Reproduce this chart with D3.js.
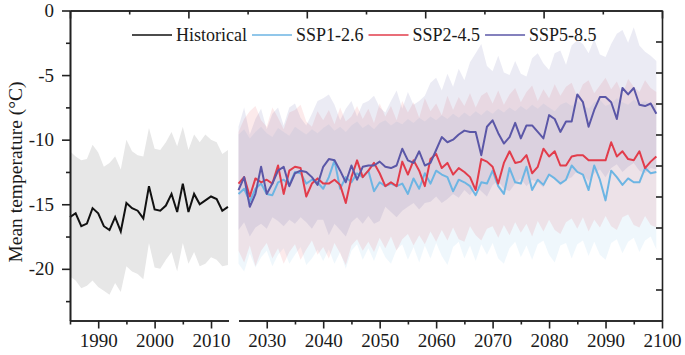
<!DOCTYPE html>
<html>
<head>
<meta charset="utf-8">
<script src="https://cdn.jsdelivr.net/npm/d3@7"></script>
<style>
  body { margin: 0; background: #fff; }
  svg text { font-family: "Liberation Serif", "Times New Roman", serif; fill: #1a1a1a; }
</style>
</head>
<body>
<svg id="chart" width="685" height="355"></svg>
<script>
// ---- data ----
const histYears = d3.range(1985, 2014);
const futYears = d3.range(2025, 2100);

const histMean = [-16.0, -15.7, -16.7, -16.5, -15.3, -15.7, -16.7, -17.0, -16.0, -17.1, -14.9, -15.3, -15.5, -16.1, -13.6,
  -15.4, -15.5, -15.1, -14.2, -15.6, -13.4, -15.6, -14.2, -15.0, -14.7, -14.4, -14.6, -15.5, -15.2];
const histUpper = [-10.9, -11.3, -11.6, -11.5, -10.4, -11.0, -12.1, -11.8, -11.3, -12.3, -10.0, -10.9, -11.2, -11.3, -9.1,
  -10.7, -10.8, -10.2, -9.4, -10.5, -9.0, -10.8, -9.6, -10.2, -9.6, -10.0, -10.2, -11.1, -10.8];
const histLower = [-20.6, -20.9, -21.5, -21.3, -20.9, -21.4, -21.7, -22.0, -21.1, -21.8, -19.8, -20.2, -20.4, -20.8, -18.0,
  -19.9, -20.0, -19.3, -18.7, -20.2, -18.0, -19.6, -18.7, -19.8, -19.6, -19.1, -19.3, -19.8, -19.7];

const ssp126 = [-14.2, -13.8, -14.8, -13.8, -13.4, -14.2, -14.3, -13.3, -13.1, -13.5, -12.5, -12.6, -13.4, -13.1, -13.3,
  -13.8, -12.9, -11.6, -13.8, -12.9, -13.3, -12.6, -12.9, -12.4, -14.0, -13.3, -13.6, -13.4, -13.6, -13.4,
  -14.2, -13.0, -13.8, -12.6, -13.4, -12.4, -12.7, -12.9, -14.0, -13.1, -13.3, -13.6, -14.3, -13.3, -13.4,
  -12.4, -13.6, -14.2, -12.2, -13.3, -13.4, -12.1, -13.9, -13.1, -13.5, -12.7, -13.0, -13.4, -13.1, -12.0,
  -12.5, -12.7, -13.9, -12.0, -13.1, -14.7, -12.4, -12.9, -13.5, -13.0, -13.3, -13.3, -12.2, -12.6, -12.5];
const ssp126Upper = [-9.6, -9.2, -9.9, -9.4, -9.0, -9.5, -9.8, -9.1, -9.4, -9.7, -9.0, -9.3, -9.6, -9.2, -9.5,
  -9.1, -8.8, -9.3, -9.0, -9.4, -8.9, -8.6, -9.1, -8.8, -9.2, -8.7, -8.5, -8.9, -8.6, -8.8,
  -8.4, -8.7, -8.3, -8.6, -8.2, -8.5, -8.1, -8.4, -8.0, -8.3, -7.9, -8.2, -7.8, -8.1, -7.7,
  -8.0, -7.6, -7.9, -7.5, -7.8, -7.4, -7.7, -7.3, -7.6, -7.2, -7.5, -7.8, -7.3, -7.1, -7.4,
  -7.0, -7.3, -7.6, -7.1, -6.9, -7.4, -7.2, -6.8, -7.1, -7.3, -6.9, -7.2, -7.0, -7.3, -7.2];
const ssp126Lower = [-19.6, -20.2, -18.8, -19.9, -19.1, -18.6, -19.8, -18.9, -18.4, -19.6, -18.9, -18.3, -19.7, -19.2, -18.5,
  -19.4, -18.5, -19.6, -18.7, -20.0, -18.6, -18.1, -19.3, -18.4, -19.4, -18.2, -19.1, -19.6, -18.5, -18.1,
  -19.3, -18.3, -19.5, -18.2, -19.2, -18.0, -19.0, -19.7, -18.3, -17.9, -19.2, -18.2, -19.4, -18.1, -18.9,
  -18.0, -19.2, -19.6, -18.4, -17.9, -19.1, -18.2, -19.3, -18.1, -17.8, -18.9, -19.5, -18.2, -18.0, -19.2,
  -18.1, -17.8, -19.0, -17.9, -18.9, -19.3, -18.0, -17.7, -18.8, -17.9, -17.6, -18.7, -17.8, -17.5, -18.5];

const ssp245 = [-13.4, -12.9, -14.4, -13.0, -13.3, -13.1, -13.4, -12.0, -14.2, -12.4, -12.1, -12.2, -14.4, -13.4, -13.0,
  -13.4, -13.4, -13.1, -13.5, -14.9, -12.9, -11.6, -12.9, -12.4, -11.8, -12.6, -13.6, -13.3, -13.6, -11.7,
  -12.7, -11.6, -12.4, -13.6, -11.5, -11.1, -12.2, -11.8, -12.7, -12.2, -12.5, -12.9, -13.9, -11.5, -11.7,
  -12.1, -13.4, -11.8, -10.9, -11.8, -11.7, -11.2, -12.6, -12.1, -10.7, -11.3, -10.9, -12.0, -12.0, -11.3,
  -11.2, -11.2, -11.6, -11.6, -11.6, -11.6, -10.2, -11.3, -10.9, -11.5, -11.6, -10.9, -12.2, -11.7, -11.3];
const ssp245Upper = [-9.4, -8.4, -7.8, -7.4, -8.5, -9.0, -7.5, -8.3, -9.2, -7.9, -7.7, -7.3, -8.6, -9.0, -7.8,
  -8.5, -7.7, -8.8, -7.5, -8.6, -8.2, -7.4, -8.4, -7.6, -8.7, -7.2, -8.2, -7.4, -8.5, -7.0,
  -7.9, -7.1, -8.3, -6.8, -7.8, -7.2, -8.1, -6.6, -7.7, -6.7, -7.4, -6.4, -7.5, -6.6, -6.3,
  -7.2, -6.2, -7.3, -6.5, -6.0, -7.1, -6.3, -5.8, -7.0, -6.1, -6.8, -5.7, -6.6, -5.9, -5.6,
  -6.7, -5.7, -5.4, -6.4, -5.8, -5.2, -6.1, -5.5, -6.5, -5.3, -5.9, -6.3, -5.4, -6.0, -6.3];
const ssp245Lower = [-18.6, -19.5, -18.2, -19.8, -18.6, -18.0, -19.2, -18.4, -19.6, -18.7, -18.1, -19.3, -18.5, -17.8, -18.9,
  -18.3, -19.2, -18.0, -18.8, -19.7, -18.2, -17.7, -18.6, -17.9, -18.7, -17.6, -18.4, -17.5, -18.6, -17.7,
  -17.3, -18.2, -17.4, -18.1, -17.1, -17.9, -17.0, -17.8, -16.8, -17.7, -17.9, -16.7, -17.4, -17.8, -16.9,
  -16.7, -17.6, -16.6, -17.4, -16.4, -17.2, -16.5, -17.5, -16.3, -17.1, -16.2, -17.0, -17.3, -16.4, -16.1,
  -16.9, -16.0, -17.1, -16.2, -16.8, -15.9, -16.7, -17.0, -16.0, -15.8, -16.6, -16.8, -15.9, -16.6, -16.8];

const ssp585 = [-13.9, -12.9, -15.2, -14.2, -12.1, -14.2, -13.4, -12.4, -12.1, -13.6, -12.6, -12.4, -12.5, -12.9, -13.5,
  -12.1, -11.5, -11.6, -12.4, -13.3, -12.0, -13.1, -12.1, -12.0, -12.0, -11.7, -12.1, -12.2, -12.0, -10.7,
  -11.6, -11.8, -10.9, -12.0, -11.8, -10.8, -9.8, -10.2, -10.0, -9.6, -9.3, -9.4, -9.4, -11.2, -9.0,
  -8.5, -9.5, -10.3, -9.8, -8.7, -9.9, -8.9, -8.9, -9.4, -9.9, -8.1, -8.4, -9.4, -8.6, -8.6,
  -6.5, -7.1, -9.0, -7.7, -6.7, -6.7, -7.1, -8.4, -6.0, -6.5, -6.0, -7.3, -7.4, -7.2, -8.0];
const ssp585Upper = [-9.0, -7.5, -9.6, -8.4, -7.6, -9.2, -8.0, -7.5, -8.9, -7.5, -7.2, -8.3, -8.9, -8.0, -7.0,
  -6.8, -6.5, -7.3, -8.5, -7.6, -7.0, -8.2, -7.2, -7.0, -6.6, -7.5, -7.9, -7.0, -6.2, -7.6,
  -6.3, -7.3, -7.0, -6.6, -5.6, -5.2, -6.2, -4.9, -5.9, -4.5, -5.4, -4.0, -3.3, -2.6, -4.3,
  -4.7, -3.5, -4.8, -5.0, -3.9, -4.9, -5.1, -3.7, -3.3, -4.1, -4.6, -3.3, -3.1, -4.2, -2.7,
  -2.3, -2.6, -3.3, -2.2, -3.4, -3.6, -2.6, -1.8, -1.5, -2.5, -1.3, -2.7, -3.2, -3.5, -3.9];
const ssp585Lower = [-17.0, -16.4, -17.5, -16.8, -16.5, -16.9, -16.0, -16.3, -16.7, -16.2, -16.5, -16.0, -16.4, -16.9, -16.2,
  -16.2, -17.4, -16.5, -17.0, -17.5, -16.4, -16.0, -16.5, -15.9, -16.5, -16.3, -15.2, -15.6, -16.0, -15.5,
  -15.2, -14.9, -15.4, -14.9, -14.8, -14.4, -14.9, -14.6, -14.2, -14.5, -13.9, -14.3, -13.6, -14.0, -14.4,
  -13.5, -13.2, -13.8, -14.0, -13.4, -13.0, -13.6, -13.1, -13.3, -13.7, -12.8, -13.0, -13.5, -13.1, -12.9,
  -12.4, -12.7, -13.2, -12.6, -12.3, -12.9, -12.2, -11.9, -12.5, -12.1, -11.8, -12.4, -12.6, -12.2, -12.3];

const scenarioNames = ['SSP1-2.6', 'SSP2-4.5', 'SSP5-8.5'];
const scenarioColors = ['#6db5e3', '#e23c4b', '#5b57a7'];
const yMajor = [0, -5, -10, -15, -20];
const yMinor = [-2.5, -7.5, -12.5, -17.5, -22.5];
const xMajorHist = [1990, 2000, 2010];
const xMinorHist = [1985, 1995, 2005];
const xMajorFut = [2030, 2040, 2050, 2060, 2070, 2080, 2090, 2100];
const xMinorFut = [2035, 2045, 2055, 2065, 2075, 2085, 2095];

// ---- layout ----
const svg = d3.select('#chart');
const plotLeft = 70, plotRight = 662, plotTop = 10.5, plotBottom = 320.5;

const y = d3.scaleLinear().domain([-24, 0]).range([plotBottom, plotTop]);
const xHist = d3.scaleLinear().domain([1985, 2013.1]).range([plotLeft, 228.5]);
const xFut = d3.scaleLinear().domain([2025, 2100]).range([238.5, plotRight]);

const hist = histYears.map((yr, i) => ({ yr, mean: histMean[i], hi: histUpper[i], lo: histLower[i] }));
const scen = [
  { mean: ssp126, hi: ssp126Upper, lo: ssp126Lower },
  { mean: ssp245, hi: ssp245Upper, lo: ssp245Lower },
  { mean: ssp585, hi: ssp585Upper, lo: ssp585Lower }
].map((s, k) => ({
  name: scenarioNames[k],
  color: scenarioColors[k],
  rows: futYears.map((yr, i) => ({ yr, mean: s.mean[i], hi: s.hi[i], lo: s.lo[i] }))
}));

// bands
const histArea = d3.area().x(d => xHist(d.yr)).y0(d => y(d.lo)).y1(d => y(d.hi));
const futArea = d3.area().x(d => xFut(d.yr)).y0(d => y(d.lo)).y1(d => y(d.hi));

svg.append('path').datum(hist).attr('d', histArea).attr('fill', '#e7e7e7');

svg.selectAll('.band').data(scen).join('path')
  .attr('class', 'band')
  .attr('d', d => futArea(d.rows))
  .attr('fill', d => d.color)
  .attr('fill-opacity', (d, i) => i === 2 ? 0.12 : 0.11);

// lines
const histLine = d3.line().x(d => xHist(d.yr)).y(d => y(d.mean));
const futLine = d3.line().x(d => xFut(d.yr)).y(d => y(d.mean));

svg.append('path').datum(hist).attr('d', histLine)
  .attr('fill', 'none').attr('stroke', '#111').attr('stroke-width', 2);

svg.selectAll('.sline').data(scen).join('path')
  .attr('class', 'sline')
  .attr('d', d => futLine(d.rows))
  .attr('fill', 'none')
  .attr('stroke', d => d.color)
  .attr('stroke-width', 2)
  .attr('stroke-linejoin', 'round');

// ---- axes ----
function styleAxis(g) {
  g.attr('font-family', null);
  g.selectAll('path, line').attr('stroke', '#222').attr('stroke-width', 1.6);
  g.selectAll('text').attr('font-family', '"Liberation Serif", "Times New Roman", serif')
    .attr('font-size', 19).attr('fill', '#1a1a1a');
}

// left
svg.append('g').attr('transform', `translate(${plotLeft},0)`)
  .call(d3.axisLeft(y).tickValues(yMajor).tickSize(8).tickSizeOuter(0).tickPadding(8).tickFormat(d => String(d)))
  .call(styleAxis);
svg.append('g').attr('transform', `translate(${plotLeft},0)`)
  .call(d3.axisLeft(y).tickValues(yMinor).tickSize(4).tickSizeOuter(0).tickFormat(''))
  .call(styleAxis);

// bottom, two segments
const bottomAxes = [
  [xHist, xMajorHist, xMinorHist],
  [xFut, xMajorFut, xMinorFut]
];
bottomAxes.forEach(([sc, major, minor]) => {
  svg.append('g').attr('transform', `translate(0,${plotBottom})`)
    .call(d3.axisBottom(sc).tickValues(major).tickSize(8).tickSizeOuter(0).tickFormat(d => String(d)))
    .call(styleAxis)
    .call(g => g.selectAll('text').attr('y', 26).attr('dy', 0));
  svg.append('g').attr('transform', `translate(0,${plotBottom})`)
    .call(d3.axisBottom(sc).tickValues(minor).tickSize(4).tickSizeOuter(0).tickFormat(''))
    .call(styleAxis);
});

// top and right frame axes (own tick spacing, ticks inward)
const topScale = d3.scaleLinear().domain([0, 10]).range([plotLeft, plotRight]);
svg.append('g').attr('transform', `translate(0,${plotTop})`)
  .call(d3.axisTop(topScale).tickValues([0, 2, 4, 6, 8, 10]).tickSize(-8).tickSizeOuter(0).tickFormat(''))
  .call(styleAxis);
svg.append('g').attr('transform', `translate(0,${plotTop})`)
  .call(d3.axisTop(topScale).tickValues([1, 3, 5, 7, 9]).tickSize(-4).tickSizeOuter(0).tickFormat(''))
  .call(styleAxis);

const rightScale = d3.scaleLinear().domain([0, 10]).range([plotTop, plotBottom]);
svg.append('g').attr('transform', `translate(${plotRight},0)`)
  .call(d3.axisRight(rightScale).tickValues(d3.range(1, 10)).tickSize(-6).tickSizeOuter(0).tickFormat(''))
  .call(styleAxis);

// y title
svg.append('text')
  .attr('transform', 'translate(15,172) rotate(-90)')
  .attr('text-anchor', 'middle')
  .attr('dy', '0.35em')
  .attr('font-size', 19.5)
  .text('Mean temperature (°C)');

// ---- legend ----
const legendItems = [{ name: 'Historical', color: '#111' }].concat(scen.map(s => ({ name: s.name, color: s.color })));
let lx = 132;
const ly = 35;
legendItems.forEach(item => {
  svg.append('line')
    .attr('x1', lx).attr('x2', lx + 40).attr('y1', ly).attr('y2', ly)
    .attr('stroke', item.color).attr('stroke-width', 1.6);
  const t = svg.append('text')
    .attr('x', lx + 44).attr('y', ly).attr('dy', '0.33em')
    .attr('font-size', 18)
    .text(item.name);
  lx += 44 + t.node().getComputedTextLength() + 5;
});
</script>
</body>
</html>
